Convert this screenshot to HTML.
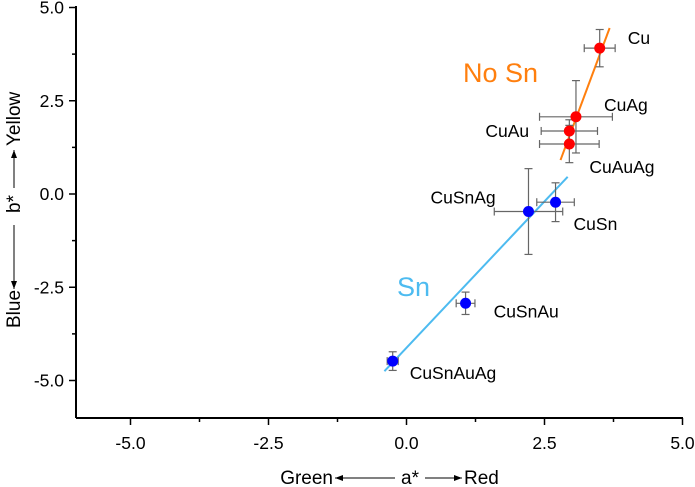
<!DOCTYPE html>
<html><head><meta charset="utf-8"><style>
html,body{margin:0;padding:0;background:#fff}
svg{display:block;font-family:"Liberation Sans",Arial,sans-serif}
</style></head><body>
<svg id="chart" width="695" height="487" viewBox="0 0 695 487"></svg>
<script>
const names=["Cu","CuAg","CuAu","CuAuAg","CuSnAg","CuSn","CuSnAu","CuSnAuAg"];
const aVals=[3.5,3.07,2.95,2.95,2.21,2.7,1.07,-0.25];
const bVals=[3.91,2.07,1.69,1.34,-0.47,-0.22,-2.93,-4.48];
const aErr=[0.28,0.66,0.51,0.54,0.62,0.34,0.17,0.1];
const bErr=[0.5,0.97,0.3,0.5,1.15,0.52,0.3,0.25];
const groups=["nosn","nosn","nosn","nosn","sn","sn","sn","sn"];
const fitNoSnA=[2.79,3.68], fitNoSnB=[0.91,4.45];
const fitSnA=[-0.4,2.92], fitSnB=[-4.75,0.46];
const xTicks=[-5,-2.5,0,2.5,5], xTickLabels=["-5.0","-2.5","0.0","2.5","5.0"];
const yTicks=[5,2.5,0,-2.5,-5], yTickLabels=["5.0","2.5","0.0","-2.5","-5.0"];
const labelOffsets=[[28,-10],[28,-12],[-84,0],[20,23],[-98,-14],[18,22],[28,8],[17,12]];

const svg=document.getElementById('chart');const NS="http://www.w3.org/2000/svg";
const X=v=>406.5+v*55.2, Y=v=>194-v*37.3;
function mk(tag,attrs,parent){const e=document.createElementNS(NS,tag);for(const k in attrs)e.setAttribute(k,attrs[k]);(parent||svg).appendChild(e);return e;}
let ax=mk('line',{x1:76,y1:418,x2:683,y2:418,stroke:'#000','stroke-width':2});


let ay=mk('line',{x1:76,y1:6,x2:76,y2:418,stroke:'#000','stroke-width':2});


xTicks.forEach((t,i)=>{
  mk('line',{x1:X(t),y1:418,x2:X(t),y2:425,stroke:'#000','stroke-width':1.5});
  if(i<xTicks.length-1)mk('line',{x1:X(t+1.25),y1:418,x2:X(t+1.25),y2:422,stroke:'#000','stroke-width':1.5});
  const tx=mk('text',{x:X(t),y:449,'text-anchor':'middle','font-size':17.5});tx.textContent=xTickLabels[i];
  
  
});
yTicks.forEach((t,i)=>{
  mk('line',{x1:69,y1:Y(t),x2:76,y2:Y(t),stroke:'#000','stroke-width':1.5});
  if(t>-5)mk('line',{x1:72,y1:Y(t-1.25),x2:76,y2:Y(t-1.25),stroke:'#000','stroke-width':1.5});
  const tx=mk('text',{x:64,y:Y(t)+6,'text-anchor':'end','font-size':17.5});tx.textContent=yTickLabels[i];
  
  
});
let l1=mk('line',{x1:X(fitNoSnA[0]),y1:Y(fitNoSnB[0]),x2:X(fitNoSnA[1]),y2:Y(fitNoSnB[1]),stroke:'#ff7f0e','stroke-width':2});


let l2=mk('line',{x1:X(fitSnA[0]),y1:Y(fitSnB[0]),x2:X(fitSnA[1]),y2:Y(fitSnB[1]),stroke:'#4dbbf0','stroke-width':2});


names.forEach((n,i)=>{
  const g=mk('g',{stroke:'#666','stroke-width':1.2});
  
  
  const x=X(aVals[i]),y=Y(bVals[i]),x0=X(aVals[i]-aErr[i]),x1=X(aVals[i]+aErr[i]),y0=Y(bVals[i]-bErr[i]),y1=Y(bVals[i]+bErr[i]);
  mk('line',{x1:x0,y1:y,x2:x1,y2:y},g);mk('line',{x1:x,y1:y0,x2:x,y2:y1},g);
  mk('line',{x1:x0,y1:y-4,x2:x0,y2:y+4},g);mk('line',{x1:x1,y1:y-4,x2:x1,y2:y+4},g);
  mk('line',{x1:x-4,y1:y0,x2:x+4,y2:y0},g);mk('line',{x1:x-4,y1:y1,x2:x+4,y2:y1},g);
});
names.forEach((n,i)=>{
  const c=mk('circle',{cx:X(aVals[i]),cy:Y(bVals[i]),r:5.5,fill:groups[i]=="nosn"?'#ff0000':'#0000ff'});
  
  
  const t=mk('text',{x:X(aVals[i])+labelOffsets[i][0],y:Y(bVals[i])+labelOffsets[i][1]+6,'font-size':17.5});t.textContent=n;
  
  
});
let t1=mk('text',{x:463,y:82,'font-size':27,fill:'#ff7f0e'});t1.textContent="No Sn";


let t2=mk('text',{x:397,y:296,'font-size':27,fill:'#4dbbf0'});t2.textContent="Sn";


</script>
<svg width="695" height="487" style="position:absolute;left:0;top:0">
<defs><marker id="ar" markerWidth="8" markerHeight="6" refX="8" refY="3" orient="auto"><path d="M0,0 L8,3 L0,6 z" fill="#000"/></marker></defs>
<g font-family="Liberation Sans,Arial,sans-serif" font-size="19">
<text x="333" y="484" text-anchor="end">Green</text>
<line x1="395" y1="478" x2="335" y2="478" stroke="#000" stroke-width="1" marker-end="url(#ar)"/>
<text x="410" y="484" text-anchor="middle">a*</text>
<line x1="425" y1="478" x2="462" y2="478" stroke="#000" stroke-width="1" marker-end="url(#ar)"/>
<text x="464" y="484">Red</text>
</g>
<g font-family="Liberation Sans,Arial,sans-serif" font-size="19" transform="translate(20,0) rotate(-90)">
<text x="-328" y="0" text-anchor="start">Blue</text>
<line x1="-225" y1="-6" x2="-289" y2="-6" stroke="#000" stroke-width="1" marker-end="url(#ar)"/>
<text x="-204" y="0" text-anchor="middle">b*</text>
<line x1="-188" y1="-6" x2="-150" y2="-6" stroke="#000" stroke-width="1" marker-end="url(#ar)"/>
<text x="-146" y="0">Yellow</text>
</g>
</svg>
</body></html>
